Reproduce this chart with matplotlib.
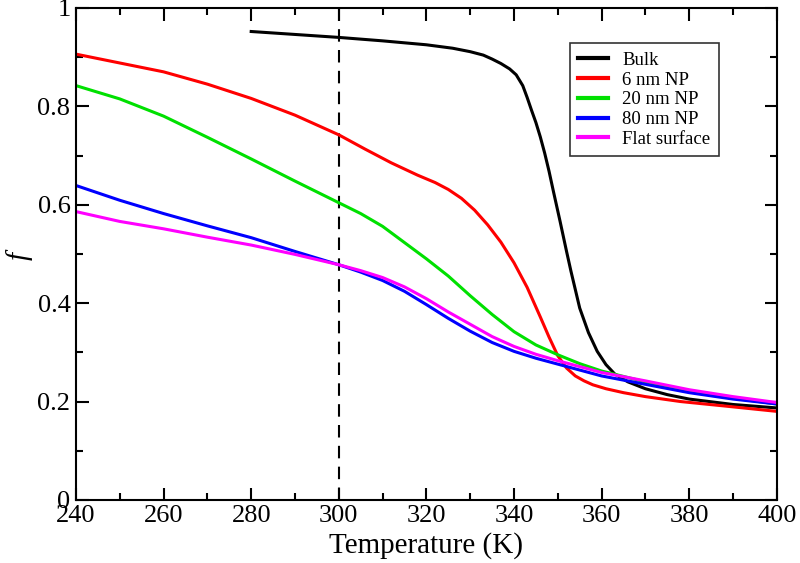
import matplotlib
matplotlib.use("Agg")
import matplotlib.pyplot as plt
from matplotlib.ticker import MultipleLocator, FormatStrFormatter

plt.rcParams['font.family'] = ['Liberation Serif', 'DejaVu Serif']
plt.rcParams['mathtext.fontset'] = 'custom'
plt.rcParams['mathtext.it'] = 'Liberation Serif:italic'

# datos
t_bulk = [280, 290, 300, 310, 320, 326, 330, 333, 335, 337, 339, 340.5, 342, 343, 344,
          345, 346, 347, 348, 349, 350.5, 352, 353, 355, 357, 359, 361, 363, 366, 370,
          375, 380, 390, 400]
f_bulk = [0.952, 0.946, 0.940, 0.933, 0.925, 0.918, 0.911, 0.904, 0.896, 0.887, 0.876,
          0.864, 0.842, 0.818, 0.792, 0.767, 0.738, 0.705, 0.668, 0.627, 0.567, 0.505,
          0.465, 0.390, 0.340, 0.302, 0.275, 0.256, 0.240, 0.226, 0.214, 0.205, 0.194,
          0.187]

t_6nm = [240, 250, 260, 270, 280, 290, 300, 306, 312, 318, 322, 325, 328, 331, 334, 337,
         340, 343, 346, 348, 350, 352, 354, 356, 358, 361, 365, 370, 378, 388, 400]
f_6nm = [0.906, 0.888, 0.870, 0.845, 0.816, 0.782, 0.742, 0.713, 0.685, 0.660, 0.645,
         0.631, 0.613, 0.589, 0.559, 0.524, 0.482, 0.432, 0.372, 0.331, 0.293, 0.268,
         0.252, 0.242, 0.234, 0.226, 0.218, 0.210, 0.200, 0.191, 0.180]

t_20nm = [240, 250, 260, 270, 280, 290, 300, 305, 310, 315, 320, 325, 330, 335, 340,
          345, 350, 355, 360, 370, 380, 390, 400]
f_20nm = [0.842, 0.815, 0.780, 0.737, 0.693, 0.648, 0.604, 0.582, 0.556, 0.523, 0.490,
          0.455, 0.415, 0.377, 0.342, 0.315, 0.295, 0.277, 0.262, 0.240, 0.222, 0.207,
          0.195]

t_80nm = [240, 250, 260, 270, 280, 290, 300, 305, 310, 315, 320, 325, 330, 335, 340,
          345, 350, 355, 360, 370, 380, 390, 400]
f_80nm = [0.639, 0.609, 0.582, 0.557, 0.533, 0.505, 0.478, 0.463, 0.446, 0.424, 0.397,
          0.369, 0.343, 0.320, 0.302, 0.288, 0.276, 0.264, 0.252, 0.235, 0.218, 0.205,
          0.195]

t_flat = [240, 250, 260, 270, 280, 290, 300, 305, 310, 315, 320, 325, 330, 335, 340,
          345, 350, 355, 360, 370, 380, 390, 400]
f_flat = [0.586, 0.566, 0.551, 0.534, 0.518, 0.499, 0.478, 0.466, 0.452, 0.433, 0.409,
          0.382, 0.357, 0.332, 0.312, 0.296, 0.283, 0.271, 0.259, 0.242, 0.224, 0.210,
          0.198]

t_ref = 300

fig = plt.figure(figsize=(8, 5.63), dpi=100)
ax = fig.add_axes([0.095, 0.112, 0.876, 0.874])

ax.axvline(t_ref, color='black', lw=1.5, ls=(0, (6, 4)))
ax.plot(t_bulk, f_bulk, color='black', lw=2.2, label='Bulk')
ax.plot(t_6nm, f_6nm, color='#ff0000', lw=2.2, label='6 nm NP')
ax.plot(t_20nm, f_20nm, color='#00e000', lw=2.2, label='20 nm NP')
ax.plot(t_80nm, f_80nm, color='#0000ff', lw=2.2, label='80 nm NP')
ax.plot(t_flat, f_flat, color='#ff00ff', lw=2.2, label='Flat surface')

ax.set_xlim(240, 400)
ax.set_ylim(0, 1)
ax.xaxis.set_major_locator(MultipleLocator(20))
ax.xaxis.set_minor_locator(MultipleLocator(10))
ax.yaxis.set_major_locator(MultipleLocator(0.2))
ax.yaxis.set_minor_locator(MultipleLocator(0.1))
ax.yaxis.set_major_formatter(FormatStrFormatter('%g'))
ax.tick_params(which='both', direction='in', top=True, right=True, width=1.5,
               labelsize=19, pad=4)
ax.tick_params(which='major', length=9)
ax.tick_params(which='minor', length=5)
for s in ax.spines.values():
    s.set_linewidth(1.5)

ax.set_xlabel('Temperature (K)', fontsize=21, labelpad=3)
ax.set_ylabel('$f$', fontsize=21, labelpad=2)

leg = ax.legend(loc='upper right', bbox_to_anchor=(0.917, 0.928), fontsize=13.5,
                frameon=True, fancybox=False, edgecolor='black', handlelength=1.6,
                borderpad=0.45, labelspacing=0.14, handletextpad=0.75,
                borderaxespad=0)
leg.get_frame().set_linewidth(1.2)
for h in leg.get_lines():
    h.set_linewidth(3)

plt.savefig('out.png', dpi=100)
